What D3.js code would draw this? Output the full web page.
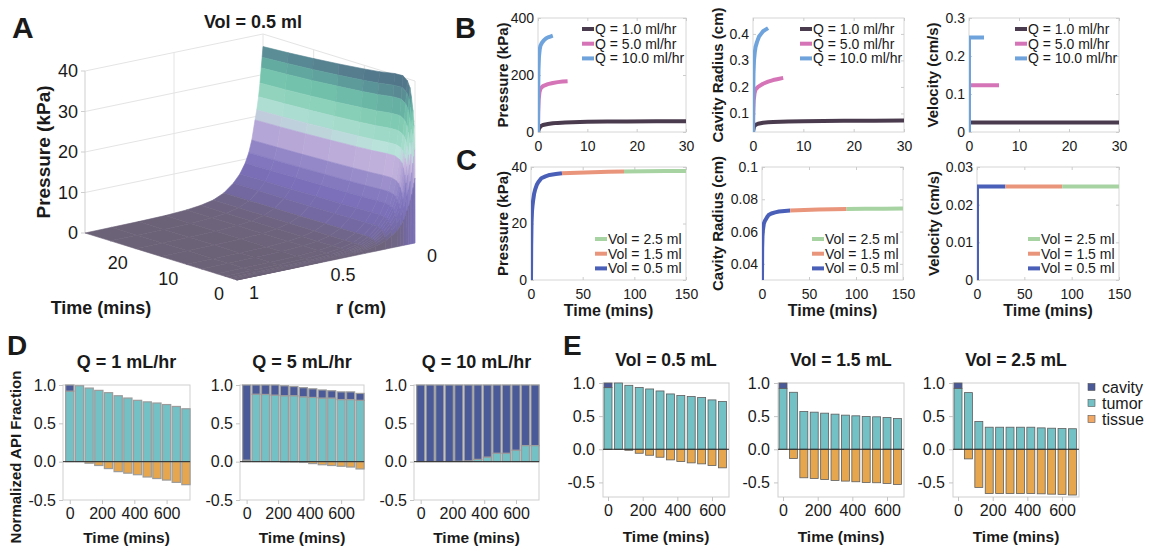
<!DOCTYPE html>
<html>
<head>
<meta charset="utf-8">
<script src="https://cdnjs.cloudflare.com/ajax/libs/d3/7.8.5/d3.min.js"></script>
<style>
body { margin: 0; background: #fff; }
svg { display: block; font-family: "Liberation Sans", Arial, Helvetica, sans-serif; }
</style>
</head>
<body>
<svg id="fig" width="1151" height="552"></svg>
<script>
// ---------------- data ----------------

// A: pressure surface p(r,t) = cavity pressure(t) * radial shape(r)
var surfTime  = [0, 0.03, 0.08, 0.2, 0.4, 0.7, 1, 1.5, 2.4, 4, 7, 10, 15, 20, 25, 30];
var surfPcav  = [0, 16, 23, 29, 32.6, 35.8, 38, 39.5, 40.4, 40.3, 39.6, 39.1, 38.4, 37.8, 37.3, 36.9];
var surfR     = [0, 0.005, 0.01, 0.017, 0.025, 0.035, 0.045, 0.063, 0.08, 0.1, 0.13, 0.167, 0.22, 0.28, 0.35, 0.43, 0.55, 0.7, 0.85, 1.0];
var surfShape = [1.0, 0.93, 0.86, 0.76, 0.67, 0.585, 0.52, 0.39, 0.31, 0.245, 0.18, 0.127, 0.075, 0.042, 0.024, 0.013, 0.005, 0.002, 0.001, 0];
var zTicks = [0, 10, 20, 30, 40];
var tTicks = [0, 10, 20];
var rTicks = [0, 0.5, 1];

// B: Vol = 0.5 ml at three flow rates
var flowNames = ["Q = 1.0 ml/hr", "Q = 5.0 ml/hr", "Q = 10.0 ml/hr"];
var q1Time  = [0, 0.2, 0.5, 1, 1.5, 2, 3, 4, 5.5, 7, 10, 14, 18, 24, 30];
var q1Pres  = [0, 12, 20, 24.5, 26.5, 28, 30.5, 32, 33.6, 34.6, 36, 36.7, 37.2, 37.5, 37.8];
var q1Rad   = [0.03, 0.05, 0.057, 0.061, 0.063, 0.065, 0.0665, 0.0675, 0.069, 0.07, 0.0708, 0.0716, 0.0722, 0.0727, 0.073];
var q5Time  = [0, 0.05, 0.15, 0.3, 0.5, 1, 2, 3, 4, 5, 6];
var q5Pres  = [0, 70, 115, 140, 152, 161, 168, 172, 175, 177, 178];
var q5Rad   = [0.03, 0.1, 0.15, 0.175, 0.19, 0.2, 0.212, 0.22, 0.226, 0.23, 0.234];
var q10Time = [0, 0.03, 0.1, 0.2, 0.35, 0.5, 0.8, 1.2, 1.6, 2, 2.5, 3];
var q10Pres = [0, 120, 220, 265, 290, 303, 313, 322, 328, 332, 335, 338];
var q10Rad  = [0.03, 0.15, 0.25, 0.3, 0.33, 0.35, 0.37, 0.39, 0.4, 0.41, 0.416, 0.422];
var q1VelTime  = [0, 0, 30];
var q1Vel      = [0, 0.0247, 0.0247];
var q5VelTime  = [0, 0, 6];
var q5Vel      = [0, 0.123, 0.123];
var q10VelTime = [0, 0, 3];
var q10Vel     = [0, 0.249, 0.249];

// C: Q = 1 ml/hr, infusion continued to larger volumes
var volNames  = ["Vol = 2.5 ml", "Vol = 1.5 ml", "Vol = 0.5 ml"];
var v05Time = [0, 0.2, 0.5, 1, 1.5, 2, 3, 4, 5.5, 7, 10, 14, 18, 24, 30];
var v05Pres = [0, 12, 20, 24.5, 26.5, 28, 30.5, 32, 33.6, 34.6, 36, 36.7, 37.2, 37.5, 37.8];
var v05Rad  = [0.03, 0.05, 0.057, 0.061, 0.063, 0.065, 0.0665, 0.0675, 0.069, 0.0702, 0.0712, 0.0719, 0.0724, 0.0728, 0.073];
var v15Time = [30, 45, 60, 75, 90];
var v15Pres = [37.8, 38.0, 38.15, 38.3, 38.4];
var v15Rad  = [0.073, 0.0733, 0.0736, 0.0738, 0.074];
var v25Time = [90, 110, 130, 150];
var v25Pres = [38.4, 38.5, 38.55, 38.6];
var v25Rad  = [0.074, 0.0741, 0.0742, 0.0743];
var v05VelTime = [0, 0, 30];
var v05Vel     = [0, 0.0248, 0.0248];
var v15VelTime = [30, 90];
var v15Vel     = [0.0248, 0.0248];
var v25VelTime = [90, 150];
var v25Vel     = [0.0248, 0.0248];

// D: API fractions vs time for three flow rates
var dTime   = [0, 60, 120, 180, 240, 300, 360, 420, 480, 540, 600, 660, 720];
var dTitles = ["Q = 1 mL/hr", "Q = 5 mL/hr", "Q = 10 mL/hr"];
var dq1Cavity = [0.08, 0, 0, 0, 0, 0, 0, 0, 0, 0, 0, 0, 0];
var dq1Tumor  = [0.92, 0.99, 0.96, 0.93, 0.9, 0.86, 0.83, 0.8, 0.78, 0.765, 0.745, 0.72, 0.69];
var dq1Tissue = [0, 0, -0.02, -0.05, -0.09, -0.13, -0.15, -0.17, -0.2, -0.22, -0.24, -0.27, -0.3];
var dq5Cavity = [0.98, 0.12, 0.123, 0.132, 0.13, 0.12, 0.119, 0.112, 0.105, 0.095, 0.1, 0.1, 0.09];
var dq5Tumor  = [0.02, 0.88, 0.877, 0.868, 0.86, 0.86, 0.846, 0.838, 0.83, 0.83, 0.81, 0.81, 0.8];
var dq5Tissue = [0, 0, 0, 0, -0.003, -0.005, -0.01, -0.025, -0.04, -0.05, -0.06, -0.07, -0.095];
var dq10Cavity = [1, 1, 1, 1, 0.995, 0.99, 0.97, 0.94, 0.89, 0.89, 0.85, 0.79, 0.79];
var dq10Tumor  = [0, 0, 0, 0, 0.005, 0.01, 0.03, 0.06, 0.11, 0.11, 0.15, 0.21, 0.21];
var dq10Tissue = [0, 0, 0, 0, 0, 0, 0, 0, 0, 0, 0, 0, 0];

// E: API fractions vs time for three volumes
var eTime   = [0, 60, 120, 180, 240, 300, 360, 420, 480, 540, 600, 660];
var eTitles = ["Vol = 0.5 mL", "Vol = 1.5 mL", "Vol = 2.5 mL"];
var ev05Cavity = [0.07, 0, 0, 0, 0, 0, 0, 0, 0, 0, 0, 0];
var ev05Tumor  = [0.93, 1.0, 0.965, 0.933, 0.91, 0.88, 0.835, 0.81, 0.795, 0.78, 0.745, 0.72];
var ev05Tissue = [0, 0, -0.015, -0.06, -0.09, -0.12, -0.16, -0.185, -0.205, -0.22, -0.245, -0.28];
var ev15Cavity = [0.08, 0, 0, 0, 0, 0, 0, 0, 0, 0, 0, 0];
var ev15Tumor  = [0.92, 0.86, 0.57, 0.56, 0.545, 0.53, 0.515, 0.505, 0.495, 0.49, 0.48, 0.465];
var ev15Tissue = [0, -0.14, -0.43, -0.44, -0.455, -0.47, -0.48, -0.49, -0.5, -0.505, -0.515, -0.53];
var ev25Cavity = [0.08, 0, 0, 0, 0, 0, 0, 0, 0, 0, 0, 0];
var ev25Tumor  = [0.92, 0.855, 0.42, 0.333, 0.333, 0.333, 0.333, 0.333, 0.323, 0.318, 0.313, 0.31];
var ev25Tissue = [0, -0.145, -0.575, -0.667, -0.667, -0.667, -0.667, -0.667, -0.672, -0.677, -0.68, -0.69];
var fracNames = ["cavity", "tumor", "tissue"];

// ---------------- styles ----------------
var flowColors = ["#4b3b4e", "#d574b6", "#6fa3dc"];
var volColors  = ["#a7d3a3", "#e9957c", "#4a5fb8"];
var fracColors = { cavity: "#4a5a99", tumor: "#73c0c5", tissue: "#e6a64d" };

var svg = d3.select("#fig");
svg.append("rect").attr("width", 1151).attr("height", 552).attr("fill", "#fff");

function label(g, txt, x, y, size, bold, anchor, rot) {
  var t = g.append("text").text(txt)
    .attr("font-size", size + "px")
    .attr("font-weight", bold ? "bold" : "normal")
    .attr("text-anchor", anchor || "start")
    .attr("fill", "#1a1a1a");
  if (rot) t.attr("transform", "translate(" + x + "," + y + ") rotate(-90)").attr("dy", "0.35em");
  else t.attr("x", x).attr("y", y);
  return t;
}

// ---------------- panel A: 3D surface ----------------
function drawPanelA() {
  var g = svg.append("g");
  var ox = 415, oy = 243;
  var txs = d3.scaleLinear().domain([0, 30]).range([0, -152]);
  var tys = d3.scaleLinear().domain([0, 30]).range([0, -47]);
  var rxs = d3.scaleLinear().domain([0, 1]).range([0, -178]);
  var rys = d3.scaleLinear().domain([0, 1]).range([0, 37]);
  var pys = d3.scaleLinear().domain([0, 40]).range([0, -162]);
  function P(t, r, p) { return [ox + txs(t) + rxs(r), oy + tys(t) + rys(r) + pys(p)]; }
  var line = d3.line();

  var col = d3.scaleLinear()
    .domain([0, 2, 4, 8, 12, 16, 19, 22, 25, 28, 31, 34, 37, 40])
    .range(["#6c6277", "#6f6587", "#7469a3", "#7a6fb8", "#887dc2", "#ad9fd3", "#c6b6de",
            "#b9e2da", "#9fd9c7", "#85ceb5", "#6fbfa9", "#5fa39e", "#567f8f", "#4e6f85"])
    .clamp(true);

  // back walls and grid
  var wall = g.append("g").attr("fill", "none").attr("stroke", "#e4e4e4").attr("stroke-width", 1);
  zTicks.filter(function (p) { return p > 0; }).forEach(function (p) {
    wall.append("path").attr("d", line([P(30, 1, p), P(30, 0, p), P(0, 0, p)]));
  });
  wall.append("path").attr("d", line([P(30, 0.5, 0), P(30, 0.5, 40)]));
  [10, 20].forEach(function (t) { wall.append("path").attr("d", line([P(t, 0, 0), P(t, 0, 40)])); });
  wall.append("path").attr("d", line([P(30, 0, 0), P(30, 0, 40)]));
  wall.append("path").attr("d", line([P(0, 0, 0), P(0, 0, 40)]));
  g.append("path").attr("d", line([P(30, 1, 0), P(30, 1, 40)]))
    .attr("stroke", "#cfcfcf").attr("fill", "none");

  // surface quads, painted far to near
  var quads = [];
  for (var i = 0; i < surfTime.length - 1; i++) {
    for (var j = 0; j < surfR.length - 1; j++) {
      var idx = [[i, j], [i + 1, j], [i + 1, j + 1], [i, j + 1]];
      var ps = idx.map(function (k) { return surfPcav[k[0]] * surfShape[k[1]]; });
      var pts = idx.map(function (k, n) { return P(surfTime[k[0]], surfR[k[1]], ps[n]); });
      quads.push({
        pts: pts,
        p: d3.mean(ps),
        depth: (surfTime[i] + surfTime[i + 1]) / 60 - (surfR[j] + surfR[j + 1]) / 2
      });
    }
  }
  quads.sort(function (a, b) { return b.depth - a.depth; });
  g.append("g").selectAll("path").data(quads).enter().append("path")
    .attr("d", function (d) { return line(d.pts) + "Z"; })
    .attr("fill", function (d) { return col(d.p); })
    .attr("stroke", function (d) { return col(d.p); })
    .attr("stroke-width", 0.6)
    .attr("stroke-linejoin", "round");

  // ticks and labels on top
  var tk = svg.append("g").attr("class", "a-ticks");
  zTicks.forEach(function (p) {
    var q = P(30, 1, p);
    tk.append("line").attr("x1", q[0] - 4).attr("x2", q[0]).attr("y1", q[1]).attr("y2", q[1]).attr("stroke", "#cfcfcf");
    tk.append("text").text(p).attr("x", q[0] - 7).attr("y", q[1]).attr("dy", "0.35em")
      .attr("text-anchor", "end").attr("font-size", "18px").attr("fill", "#1a1a1a");
  });
  tTicks.forEach(function (t) {
    var q = P(t, 1, 0);
    tk.append("text").text(t).attr("x", q[0] - 18).attr("y", q[1] + 14).attr("dy", "0.35em")
      .attr("text-anchor", "middle").attr("font-size", "18px").attr("fill", "#1a1a1a");
  });
  rTicks.forEach(function (r) {
    var q = P(0, r, 0);
    tk.append("text").text(r).attr("x", q[0] + 17).attr("y", q[1] + 13).attr("dy", "0.35em")
      .attr("text-anchor", "middle").attr("font-size", "18px").attr("fill", "#1a1a1a");
  });

  label(tk, "Vol = 0.5 ml", 253, 28, 18, true, "middle");
  label(tk, "Pressure (kPa)", 43, 152, 19, true, "middle", true);
  label(tk, "Time (mins)", 101, 314, 18, true, "middle");
  label(tk, "r (cm)", 361, 314, 18, true, "middle");
}

// ---------------- panels B and C: line plots ----------------
function lineChart(cfg) {
  var g = svg.append("g");
  var x = d3.scaleLinear().domain(cfg.xd).range([cfg.x0, cfg.x1]);
  var y = d3.scaleLinear().domain(cfg.yd).range([cfg.y1, cfg.y0]);
  var fmt = function (d) { return String(d); };

  g.append("rect").attr("x", cfg.x0).attr("y", cfg.y0)
    .attr("width", cfg.x1 - cfg.x0).attr("height", cfg.y1 - cfg.y0)
    .attr("fill", "none").attr("stroke", "#d6d6d6");

  var axB = g.append("g").attr("transform", "translate(0," + cfg.y1 + ")")
    .call(d3.axisBottom(x).tickValues(cfg.xt).tickFormat(fmt).tickSize(-3).tickPadding(6));
  var axT = g.append("g").attr("transform", "translate(0," + cfg.y0 + ")")
    .call(d3.axisTop(x).tickValues(cfg.xt).tickFormat("").tickSize(-3));
  var axL = g.append("g").attr("transform", "translate(" + cfg.x0 + ",0)")
    .call(d3.axisLeft(y).tickValues(cfg.yt).tickFormat(fmt).tickSize(-3).tickPadding(4));
  var axR = g.append("g").attr("transform", "translate(" + cfg.x1 + ",0)")
    .call(d3.axisRight(y).tickValues(cfg.yt).tickFormat("").tickSize(-3));
  [axB, axT, axL, axR].forEach(function (a) {
    a.select(".domain").remove();
    a.selectAll("line").attr("stroke", "#cccccc");
    a.selectAll("text").attr("font-size", "14px").attr("fill", "#1a1a1a")
      .attr("font-family", null);
  });
  axB.selectAll("text").attr("dy", "0.9em");

  var clipId = "clip" + Math.round(cfg.x0) + "_" + Math.round(cfg.y0);
  g.append("clipPath").attr("id", clipId).append("rect")
    .attr("x", cfg.x0).attr("y", cfg.y0 - 2).attr("width", cfg.x1 - cfg.x0 + 2).attr("height", cfg.y1 - cfg.y0 + 2);
  var lg = g.append("g").attr("clip-path", "url(#" + clipId + ")");
  var ln = d3.line().x(function (d) { return x(d[0]); }).y(function (d) { return y(d[1]); });
  cfg.series.forEach(function (s) {
    lg.append("path").datum(d3.zip(s.t, s.v)).attr("d", ln)
      .attr("fill", "none").attr("stroke", s.color).attr("stroke-width", 4)
      .attr("stroke-linejoin", "round");
  });

  // legend
  cfg.legend.forEach(function (it, k) {
    var yy = cfg.legY + k * 14.7;
    g.append("line").attr("x1", cfg.legX).attr("x2", cfg.legX + 12).attr("y1", yy).attr("y2", yy)
      .attr("stroke", it.color).attr("stroke-width", 4);
    label(g, it.name, cfg.legX + 13, yy, 14, false, "start").attr("dy", "0.35em");
  });

  label(g, cfg.ylabel, cfg.ylx, (cfg.y0 + cfg.y1) / 2, 15, true, "middle", true);
  if (cfg.xlabel) label(g, cfg.xlabel, (cfg.x0 + cfg.x1) / 2, cfg.y1 + 36, 16, true, "middle");
}

function drawPanelsBC() {
  var flowLeg = flowNames.map(function (n, k) { return { name: n, color: flowColors[k] }; });
  var volLeg = volNames.map(function (n, k) { return { name: n, color: volColors[k] }; });
  var bx = [[538, 686], [753, 904], [969, 1119]];
  var cx = [[531, 686], [762, 903], [977, 1119]];

  lineChart({ x0: bx[0][0], x1: bx[0][1], y0: 18, y1: 132, xd: [0, 30], yd: [0, 400],
    xt: [0, 10, 20, 30], yt: [0, 200, 400], ylabel: "Pressure (kPa)", ylx: 503,
    legX: bx[0][1] - 104, legY: 29, legend: flowLeg,
    series: [{ t: q1Time, v: q1Pres, color: flowColors[0] }, { t: q5Time, v: q5Pres, color: flowColors[1] },
             { t: q10Time, v: q10Pres, color: flowColors[2] }] });
  lineChart({ x0: bx[1][0], x1: bx[1][1], y0: 18, y1: 132, xd: [0, 30], yd: [0.03, 0.46],
    xt: [0, 10, 20, 30], yt: [0.1, 0.2, 0.3, 0.4], ylabel: "Cavity Radius (cm)", ylx: 718,
    legX: bx[1][1] - 104, legY: 29, legend: flowLeg,
    series: [{ t: q1Time, v: q1Rad, color: flowColors[0] }, { t: q5Time, v: q5Rad, color: flowColors[1] },
             { t: q10Time, v: q10Rad, color: flowColors[2] }] });
  lineChart({ x0: bx[2][0], x1: bx[2][1], y0: 18, y1: 132, xd: [0, 30], yd: [0, 0.3],
    xt: [0, 10, 20, 30], yt: [0, 0.1, 0.2, 0.3], ylabel: "Velocity (cm/s)", ylx: 933,
    legX: bx[2][1] - 104, legY: 29, legend: flowLeg,
    series: [{ t: q1VelTime, v: q1Vel, color: flowColors[0] }, { t: q5VelTime, v: q5Vel, color: flowColors[1] },
             { t: q10VelTime, v: q10Vel, color: flowColors[2] }] });

  lineChart({ x0: cx[0][0], x1: cx[0][1], y0: 167, y1: 280, xd: [0, 150], yd: [0, 40],
    xt: [0, 50, 100, 150], yt: [0, 20, 40], ylabel: "Pressure (kPa)", ylx: 503, xlabel: "Time (mins)",
    legX: cx[0][1] - 91, legY: 239, legend: volLeg,
    series: [{ t: v05Time, v: v05Pres, color: volColors[2] }, { t: v15Time, v: v15Pres, color: volColors[1] },
             { t: v25Time, v: v25Pres, color: volColors[0] }] });
  lineChart({ x0: cx[1][0], x1: cx[1][1], y0: 167, y1: 280, xd: [0, 150], yd: [0.03, 0.1],
    xt: [0, 50, 100, 150], yt: [0.04, 0.06, 0.08, 0.1], ylabel: "Cavity Radius (cm)", ylx: 718, xlabel: "Time (mins)",
    legX: cx[1][1] - 91, legY: 239, legend: volLeg,
    series: [{ t: v05Time, v: v05Rad, color: volColors[2] }, { t: v15Time, v: v15Rad, color: volColors[1] },
             { t: v25Time, v: v25Rad, color: volColors[0] }] });
  lineChart({ x0: cx[2][0], x1: cx[2][1], y0: 167, y1: 280, xd: [0, 150], yd: [0, 0.03],
    xt: [0, 50, 100, 150], yt: [0, 0.01, 0.02, 0.03], ylabel: "Velocity (cm/s)", ylx: 934, xlabel: "Time (mins)",
    legX: cx[2][1] - 91, legY: 239, legend: volLeg,
    series: [{ t: v05VelTime, v: v05Vel, color: volColors[2] }, { t: v15VelTime, v: v15Vel, color: volColors[1] },
             { t: v25VelTime, v: v25Vel, color: volColors[0] }] });
}

// ---------------- panels D and E: stacked bars ----------------
function barChart(cfg) {
  var g = svg.append("g");
  var x = d3.scaleLinear().domain(cfg.xd).range([cfg.x0, cfg.x1]);
  var y = d3.scaleLinear().domain(cfg.yd).range([cfg.y1, cfg.y0]);

  g.append("rect").attr("x", cfg.x0).attr("y", cfg.y0)
    .attr("width", cfg.x1 - cfg.x0).attr("height", cfg.y1 - cfg.y0)
    .attr("fill", "none").attr("stroke", "#cfcfcf");

  var axB = g.append("g").attr("transform", "translate(0," + cfg.y1 + ")")
    .call(d3.axisBottom(x).tickValues([0, 200, 400, 600]).tickSize(4).tickPadding(4));
  var axL = g.append("g").attr("transform", "translate(" + cfg.x0 + ",0)")
    .call(d3.axisLeft(y).tickValues([-0.5, 0, 0.5, 1]).tickFormat(function (d) { return d.toFixed(1); })
      .tickSize(4).tickPadding(cfg.ypad));
  [axB, axL].forEach(function (a) {
    a.select(".domain").remove();
    a.selectAll("line").attr("stroke", "#c4c4c4");
    a.selectAll("text").attr("font-size", cfg.tickSize + "px").attr("fill", "#1a1a1a").attr("font-family", null);
  });

  var bw = x(cfg.barW) - x(0);
  var rows = cfg.time.map(function (t, k) {
    return { t: t, cav: cfg.cavity[k], tum: cfg.tumor[k], tis: cfg.tissue[k] };
  });
  var bars = g.append("g").attr("stroke", cfg.stroke).attr("stroke-width", cfg.strokeW);
  rows.forEach(function (d) {
    var bx = x(d.t) - bw / 2;
    if (d.tum > 0) bars.append("rect").attr("x", bx).attr("width", bw)
      .attr("y", y(d.tum)).attr("height", y(0) - y(d.tum)).attr("fill", fracColors.tumor);
    if (d.cav > 0) bars.append("rect").attr("x", bx).attr("width", bw)
      .attr("y", y(d.tum + d.cav)).attr("height", y(d.tum) - y(d.tum + d.cav)).attr("fill", fracColors.cavity);
    if (d.tis < 0) bars.append("rect").attr("x", bx).attr("width", bw)
      .attr("y", y(0)).attr("height", y(d.tis) - y(0)).attr("fill", fracColors.tissue);
  });
  g.append("line").attr("x1", cfg.x0).attr("x2", cfg.x1).attr("y1", y(0)).attr("y2", y(0))
    .attr("stroke", "#2b2b2b").attr("stroke-width", 1);

  label(g, cfg.title, (cfg.x0 + cfg.x1) / 2, cfg.titleY, cfg.titleSize, true, "middle");
  label(g, "Time (mins)", (cfg.x0 + cfg.x1) / 2, cfg.xlabY, 15.5, true, "middle");
}

function drawPanelsDE() {
  var dx = [[63, 190], [240, 364], [414, 539]];
  var dCav = [dq1Cavity, dq5Cavity, dq10Cavity];
  var dTum = [dq1Tumor, dq5Tumor, dq10Tumor];
  var dTis = [dq1Tissue, dq5Tissue, dq10Tissue];
  dx.forEach(function (p, k) {
    barChart({ x0: p[0], x1: p[1], y0: 385, y1: 500, xd: [-42, 745], yd: [-0.5, 1.0], barW: 51,
      time: dTime, cavity: dCav[k], tumor: dTum[k], tissue: dTis[k],
      stroke: "#9c9c9c", strokeW: 1.2, tickSize: 16, ypad: 3,
      title: dTitles[k], titleY: 368, titleSize: 18, xlabY: 543 });
  });
  label(svg, "Normalized API Fraction", 16, 457, 15, true, "middle", true);

  var ex = [[603, 729], [778, 904], [953, 1079]];
  var eCav = [ev05Cavity, ev15Cavity, ev25Cavity];
  var eTum = [ev05Tumor, ev15Tumor, ev25Tumor];
  var eTis = [ev05Tissue, ev15Tissue, ev25Tissue];
  ex.forEach(function (p, k) {
    barChart({ x0: p[0], x1: p[1], y0: 383, y1: 497, xd: [-29, 698], yd: [-0.72, 1.0], barW: 46,
      time: eTime, cavity: eCav[k], tumor: eTum[k], tissue: eTis[k],
      stroke: "#5e5e5e", strokeW: 0.8, tickSize: 16, ypad: 4,
      title: eTitles[k], titleY: 366, titleSize: 17.5, xlabY: 542 });
  });

  // legend for E
  var lg = svg.append("g");
  fracNames.forEach(function (n, k) {
    var yy = 387 + k * 16;
    lg.append("rect").attr("x", 1088).attr("y", yy - 3.5).attr("width", 7).attr("height", 7)
      .attr("fill", n === "tissue" ? "#f2a865" : fracColors[n]).attr("stroke", "#555").attr("stroke-width", 0.6);
    label(lg, n, 1102, yy, 16, false, "start").attr("dy", "0.35em");
  });
}

drawPanelA();
drawPanelsBC();
drawPanelsDE();

// panel letters
label(svg, "A", 12, 38, 30, true);
label(svg, "B", 455, 38, 29, true);
label(svg, "C", 456, 170, 29, true);
label(svg, "D", 7, 355, 28, true);
label(svg, "E", 563, 355, 28, true);
</script>
</body>
</html>
